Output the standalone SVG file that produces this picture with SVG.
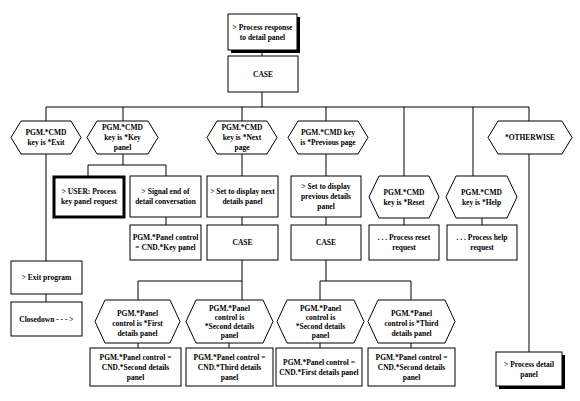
<svg xmlns="http://www.w3.org/2000/svg" width="580" height="401" viewBox="0 0 580 401">
<style>
  rect.n, polygon.n { fill: #fff; stroke: #000; stroke-width: 1; }
  rect.thick { fill: #fff; stroke: #000; stroke-width: 3; }
  rect.shadow { fill: #000; stroke: none; }
  #connectors path { fill: none; stroke: #000; stroke-width: 1; }
  text { font-family: "Liberation Serif", "Times New Roman", serif; font-size: 7.5px; font-weight: bold; fill: #000; text-anchor: middle; }
</style>
<rect width="580" height="401" fill="#fff"/>
<g id="connectors">
  <path d="M262 50V56M262 92V107M46 107H529M46 107V121M123 107V121M242 107V121M326 107V121M404 107V176M473 107V176M529 107V121"/>
  <path d="M46 154V261M46 294V302"/>
  <path d="M123 154V165M88 165H166M88 165V176M166 165V176"/>
  <path d="M242 154V176M326 154V176M529 154V352"/>
  <path d="M166 217V225M242 217V225M326 217V225M404 218V225M482 218V225"/>
  <path d="M242 260V300M138 281H242M138 281V300"/>
  <path d="M326 260V281M320 281H411M320 281V300M411 281V300"/>
  <path d="M138 343V348M229 343V348M320 343V348M411 343V348"/>
</g>
<g id="n-top">
  <rect class="shadow" x="231" y="17" width="69" height="36"/>
  <rect class="n" x="228" y="14" width="69" height="36"/>
  <text x="262.5" y="29.6">&gt; Process response</text>
  <text x="262.5" y="39.6">to detail panel</text>
</g>
<g id="n-case1">
  <rect class="n" x="228" y="56" width="70" height="36"/>
  <text x="263" y="76.6">CASE</text>
</g>
<g id="n-exit-cond">
  <polygon class="n" points="21,121 71,121 81,137.5 71,154 21,154 11,137.5"/>
  <text x="46" y="135.1">PGM.*CMD</text>
  <text x="46" y="145.1">key is *Exit</text>
</g>
<g id="n-key-cond">
  <polygon class="n" points="97,121 148,121 158,137.5 148,154 97,154 87,137.5"/>
  <text x="122.5" y="130.1">PGM.*CMD</text>
  <text x="122.5" y="140.1">key is *Key</text>
  <text x="122.5" y="150.1">panel</text>
</g>
<g id="n-next-cond">
  <polygon class="n" points="217,121 267,121 277,137.5 267,154 217,154 207,137.5"/>
  <text x="242" y="130.1">PGM.*CMD</text>
  <text x="242" y="140.1">key is *Next</text>
  <text x="242" y="150.1">page</text>
</g>
<g id="n-prev-cond">
  <polygon class="n" points="298,121 358,121 368,137.5 358,154 298,154 288,137.5"/>
  <text x="328" y="135.1">PGM.*CMD key</text>
  <text x="328" y="145.1">is *Previous page</text>
</g>
<g id="n-otherwise">
  <polygon class="n" points="498,121 562,121 572,137.5 562,154 498,154 488,137.5"/>
  <text x="530" y="140.1">*OTHERWISE</text>
</g>
<g id="n-user">
  <rect class="thick" x="54" y="177" width="70" height="40"/>
  <text x="89" y="194.1">&gt; USER: Process</text>
  <text x="89" y="204.1">key panel request</text>
</g>
<g id="n-signal">
  <rect class="n" x="130" y="176" width="71" height="41"/>
  <text x="165.5" y="194.1">&gt; Signal end of</text>
  <text x="165.5" y="204.1">detail conversation</text>
</g>
<g id="n-setnext">
  <rect class="n" x="207" y="176" width="71" height="41"/>
  <text x="242.5" y="194.1">&gt; Set to display next</text>
  <text x="242.5" y="204.1">details panel</text>
</g>
<g id="n-setprev">
  <rect class="n" x="291" y="176" width="70" height="41"/>
  <text x="326" y="189.1">&gt; Set to display</text>
  <text x="326" y="199.1">previous details</text>
  <text x="326" y="209.1">panel</text>
</g>
<g id="n-reset-cond">
  <polygon class="n" points="379,176 429,176 439,197 429,218 379,218 369,197"/>
  <text x="404" y="194.6">PGM.*CMD</text>
  <text x="404" y="204.6">key is *Reset</text>
</g>
<g id="n-help-cond">
  <polygon class="n" points="456,176 507,176 517,197 507,218 456,218 446,197"/>
  <text x="481.5" y="194.6">PGM.*CMD</text>
  <text x="481.5" y="204.6">key is *Help</text>
</g>
<g id="n-panelctl-key">
  <rect class="n" x="130" y="225" width="71" height="35"/>
  <text x="165.5" y="240.1">PGM.*Panel control</text>
  <text x="165.5" y="250.1">= CND.*Key panel</text>
</g>
<g id="n-case2">
  <rect class="n" x="207" y="225" width="71" height="35"/>
  <text x="242.5" y="245.1">CASE</text>
</g>
<g id="n-case3">
  <rect class="n" x="291" y="225" width="70" height="35"/>
  <text x="326" y="245.1">CASE</text>
</g>
<g id="n-reset">
  <rect class="n" x="369" y="225" width="70" height="35"/>
  <text x="404" y="240.1">. . . Process reset</text>
  <text x="404" y="250.1">request</text>
</g>
<g id="n-help">
  <rect class="n" x="447" y="225" width="70" height="35"/>
  <text x="482" y="240.1">. . . Process help</text>
  <text x="482" y="250.1">request</text>
</g>
<g id="n-exit">
  <rect class="n" x="11" y="261" width="71" height="33"/>
  <text x="46.5" y="280.1">&gt; Exit program</text>
</g>
<g id="n-closedown">
  <rect class="n" x="11" y="302" width="71" height="34"/>
  <text x="46.5" y="321.6">Closedown - - - &gt;</text>
</g>
<g id="n-first-cond">
  <polygon class="n" points="105,300 170,300 180,321.5 170,343 105,343 95,321.5"/>
  <text x="137.5" y="316.1">PGM.*Panel</text>
  <text x="137.5" y="326.1">control is *First</text>
  <text x="137.5" y="336.1">details panel</text>
</g>
<g id="n-second-cond-a">
  <polygon class="n" points="196,300 263,300 273,321.5 263,343 196,343 186,321.5"/>
  <text x="229.5" y="310.6">PGM.*Panel</text>
  <text x="229.5" y="319.6">control is</text>
  <text x="229.5" y="328.6">*Second details</text>
  <text x="229.5" y="337.6">panel</text>
</g>
<g id="n-second-cond-b">
  <polygon class="n" points="287,300 354,300 364,321.5 354,343 287,343 277,321.5"/>
  <text x="320.5" y="310.6">PGM.*Panel</text>
  <text x="320.5" y="319.6">control is</text>
  <text x="320.5" y="328.6">*Second details</text>
  <text x="320.5" y="337.6">panel</text>
</g>
<g id="n-third-cond">
  <polygon class="n" points="378,300 445,300 455,321.5 445,343 378,343 368,321.5"/>
  <text x="411.5" y="316.1">PGM.*Panel</text>
  <text x="411.5" y="326.1">control is *Third</text>
  <text x="411.5" y="336.1">details panel</text>
</g>
<g id="n-set-second-a">
  <rect class="n" x="90" y="348" width="91" height="38"/>
  <text x="135.5" y="359.6">PGM.*Panel control =</text>
  <text x="135.5" y="369.6">CND.*Second details</text>
  <text x="135.5" y="379.6">panel</text>
</g>
<g id="n-set-third">
  <rect class="n" x="186" y="348" width="87" height="38"/>
  <text x="229.5" y="359.6">PGM.*Panel control =</text>
  <text x="229.5" y="369.6">CND.*Third details</text>
  <text x="229.5" y="379.6">panel</text>
</g>
<g id="n-set-first">
  <rect class="n" x="276" y="348" width="86" height="38"/>
  <text x="319" y="364.6">PGM.*Panel control =</text>
  <text x="319" y="374.6">CND.*First details panel</text>
</g>
<g id="n-set-second-b">
  <rect class="n" x="368" y="348" width="87" height="38"/>
  <text x="411.5" y="359.6">PGM.*Panel control =</text>
  <text x="411.5" y="369.6">CND.*Second details</text>
  <text x="411.5" y="379.6">panel</text>
</g>
<g id="n-process-detail">
  <rect class="shadow" x="499" y="355" width="66" height="34"/>
  <rect class="n" x="496" y="352" width="66" height="34"/>
  <text x="529" y="366.6">&gt; Process detail</text>
  <text x="529" y="376.6">panel</text>
</g>
</svg>
